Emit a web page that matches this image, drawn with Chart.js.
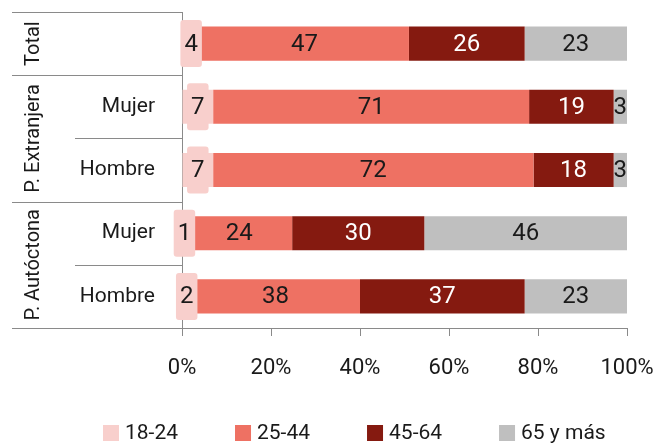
<!DOCTYPE html>
<html>
<head>
<meta charset="utf-8">
<script src="https://cdn.jsdelivr.net/npm/chart.js@4.4.1/dist/chart.umd.min.js"></script>
<style>
  body { margin: 0; background: #fff; }
  #wrap { width: 665px; height: 446px; }
</style>
</head>
<body>
<div id="wrap"><canvas id="chart" width="665" height="446"></canvas></div>
<script>
const categories = ['', 'Mujer', 'Hombre', 'Mujer', 'Hombre'];
const groupNames = ['Total', 'P. Extranjera', 'P. Autóctona'];
const groupSizes = [1, 2, 2];
const seriesNames = ['18-24', '25-44', '45-64', '65 y más'];
const age18to24 = [4, 7, 7, 1, 2];
const age25to44 = [47, 71, 72, 24, 38];
const age45to64 = [26, 19, 18, 30, 37];
const age65plus = [23, 3, 3, 46, 23];
const xTicks = [0, 20, 40, 60, 80, 100];

const colors = ['#F8CFCC', '#EE7163', '#851A10', '#BFBFBF'];
const labelColors = ['#1a1a1a', '#1a1a1a', '#ffffff', '#1a1a1a'];
const lineColor = '#8a8a8a';
const textColor = '#1a1a1a';

Chart.defaults.font.family = 'Roboto';
Chart.defaults.color = textColor;

const series = [age18to24, age25to44, age45to64, age65plus];
const rowTotals = categories.map((c, i) => series.reduce((s, arr) => s + arr[i], 0));

// 100% stacked: each row scaled to its total
const datasets = series.map((arr, k) => ({
  label: seriesNames[k],
  data: arr.map((v, i) => v / rowTotals[i] * 100),
  rawValues: arr,
  backgroundColor: colors[k],
  borderWidth: 0,
  barPercentage: 0.54,
  categoryPercentage: 1
}));

const labelPlugin = {
  id: 'barLabels',
  afterDatasetsDraw(chart) {
    const ctx = chart.ctx;
    ctx.save();
    ctx.font = '24px Roboto';
    ctx.textAlign = 'center';
    ctx.textBaseline = 'middle';
    chart.data.datasets.forEach((ds, di) => {
      chart.getDatasetMeta(di).data.forEach((bar, i) => {
        const txt = String(ds.rawValues[i]);
        const cx = (bar.x + bar.base) / 2;
        const cy = bar.y;
        if (di === 0) {
          const w = ctx.measureText(txt).width + 8;
          ctx.fillStyle = colors[0];
          ctx.beginPath();
          ctx.roundRect(cx - w / 2, cy - 23.5, w, 47, 3);
          ctx.fill();
        }
        ctx.fillStyle = labelColors[di];
        ctx.fillText(txt, cx, cy + 1);
      });
    });
    ctx.restore();
  }
};

const framePlugin = {
  id: 'groupFrame',
  afterDraw(chart) {
    const ctx = chart.ctx;
    const ys = chart.scales.y;
    const left = 12, inner = 75, axisX = ys.right;
    const pix = i => ys.getPixelForValue(i);
    ctx.save();
    ctx.strokeStyle = lineColor;
    ctx.lineWidth = 1;
    const hline = (x0, y) => {
      y = Math.round(y) + 0.5;
      ctx.beginPath(); ctx.moveTo(x0, y); ctx.lineTo(axisX, y); ctx.stroke();
    };
    hline(left, ys.top);
    hline(left, ys.bottom);
    // group and sub-category separators
    let start = 0;
    ctx.font = '20px Roboto';
    ctx.fillStyle = textColor;
    ctx.textAlign = 'center';
    ctx.textBaseline = 'middle';
    groupSizes.forEach((n, g) => {
      const end = start + n - 1;
      const yTop = start === 0 ? ys.top : (pix(start - 1) + pix(start)) / 2;
      const yBot = end === categories.length - 1 ? ys.bottom : (pix(end) + pix(end + 1)) / 2;
      if (start > 0) hline(left, yTop);
      for (let i = start; i < end; i++) hline(inner, (pix(i) + pix(i + 1)) / 2);
      ctx.save();
      ctx.translate(33, (yTop + yBot) / 2);
      ctx.rotate(-Math.PI / 2);
      ctx.fillText(groupNames[g], 0, 1);
      ctx.restore();
      start += n;
    });

    // legend
    ctx.font = '21px Roboto';
    ctx.textAlign = 'left';
    let x = 103;
    const cy = 433;
    seriesNames.forEach((name, k) => {
      ctx.fillStyle = colors[k];
      ctx.fillRect(x, cy - 8, 16, 16);
      ctx.fillStyle = textColor;
      ctx.fillText(name, x + 22, cy + 1);
      x += 22 + ctx.measureText(name).width + 57;
    });
    ctx.restore();
  }
};

new Chart(document.getElementById('chart'), {
  type: 'bar',
  data: { labels: categories, datasets: datasets },
  options: {
    indexAxis: 'y',
    responsive: false,
    animation: false,
    layout: { padding: { top: 12, right: 38, left: 0, bottom: 0 } },
    plugins: {
      legend: { display: false },
      tooltip: { enabled: false }
    },
    scales: {
      x: {
        stacked: true,
        min: 0,
        max: 100,
        afterBuildTicks: scale => { scale.ticks = xTicks.map(v => ({ value: v })); },
        afterFit: scale => {
          scale.height = 118;
          scale.paddingLeft = 0;
          scale.paddingRight = 0;
        },
        grid: { drawOnChartArea: false, drawTicks: true, tickLength: 8, color: lineColor },
        border: { display: true, color: lineColor },
        ticks: {
          font: { size: 22 },
          padding: 19,
          maxRotation: 0,
          callback: v => v + '%'
        }
      },
      y: {
        stacked: true,
        afterFit: scale => {
          scale.width = 182;
          scale.paddingTop = 0;
          scale.paddingBottom = 0;
        },
        grid: { display: false },
        border: { display: true, color: lineColor },
        ticks: { font: { size: 21 }, padding: 19 }
      }
    }
  },
  plugins: [labelPlugin, framePlugin]
});
</script>
</body>
</html>
